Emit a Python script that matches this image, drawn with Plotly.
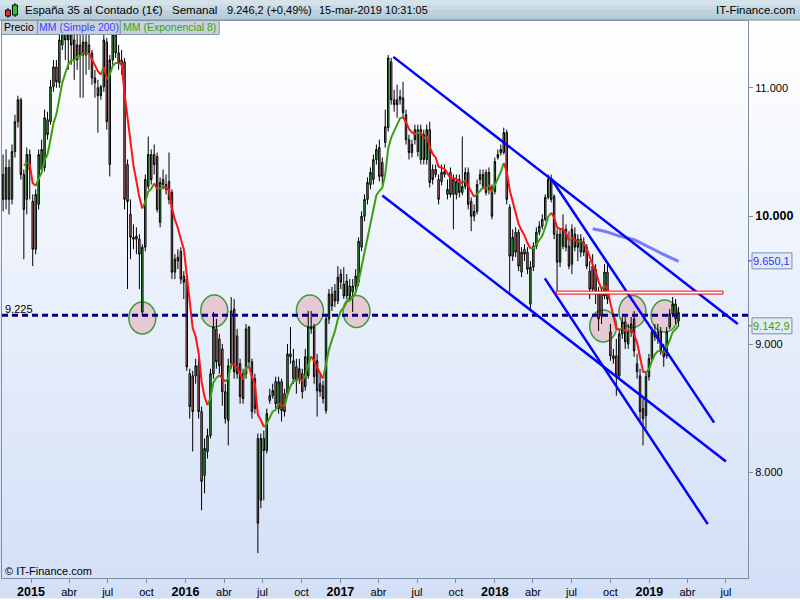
import pandas as pd
import plotly.graph_objects as go

# weekly candles, España 35 al Contado, one row per Monday from 27-oct-2014
open_ = [
    10324, 10130, 10379, 10130, 10503, 10736, 10907, 10324, 10130, 10480,
    10114, 9741, 10091, 10363, 10379, 10752, 10736, 11008, 11164, 11040,
    11335, 11452, 11374, 11413, 11374, 11218, 11335, 11257, 11358, 11335,
    11273, 11078, 11001, 10939, 11008, 11358, 10402, 11218, 11413, 11273,
    11218, 11203, 10402, 10013, 9834, 9819, 9819, 9251, 9757, 10231,
    10480, 10480, 10464, 9951, 10285, 10246, 10270, 10184, 9562, 9648,
    9725, 9531, 9508, 8769, 8753, 8753, 8831, 8474, 7976, 8162,
    8287, 8769, 9119, 9041, 8963, 8419, 8404, 8831, 9274, 9064,
    8847, 8769, 8769, 9134, 8862, 8730, 8264, 7781, 8264, 8170,
    8559, 8598, 8707, 8497, 8707, 8613, 8613, 8924, 8730, 8823,
    8730, 8769, 8668, 8753, 9119, 9134, 8870, 8691, 8676, 8481,
    9197, 9391, 9414, 9337, 9547, 9469, 9376, 9453, 9407, 9453,
    9484, 9757, 9998, 10130, 10246, 10285, 10441, 10534, 10418, 10573,
    10690, 11203, 10907, 10907, 10907, 10923, 10791, 10596, 10495, 10674,
    10503, 10441, 10635, 10441, 10674, 10363, 10324, 10285, 10270, 10324,
    10169, 10340, 10169, 10169, 10285, 10184, 10231, 10340, 10114, 9998,
    10036, 10324, 10231, 10340, 10208, 10223, 10192, 10456, 10495, 10495,
    10651, 10068, 9687, 9873, 9873, 9562, 9741, 9718, 9313, 9601,
    9764, 9873, 9920, 9974, 10145, 10285, 10153, 9858, 9640, 9764,
    9896, 9764, 9624, 9858, 9819, 9718, 9795, 9757, 9570, 9609,
    9585, 9407, 9407, 9376, 9562, 9096, 8886, 8909, 8753, 9080,
    9173, 9002, 9096, 9197, 8847, 8753, 8497, 8442, 8746, 8886,
    9057, 9096, 9096, 8948, 8909, 9134, 9236, 9313, 9181,
]
high = [
    10480, 10519, 10441, 10558, 10791, 10939, 10923, 10363, 10534, 10519,
    10169, 10208, 10519, 10596, 10830, 10814, 11063, 11218, 11218, 11491,
    11529, 11529, 11514, 11491, 11452, 11413, 11452, 11413, 11413, 11413,
    11296, 11141, 11063, 11024, 11413, 11390, 11257, 11491, 11491, 11335,
    11296, 11234, 10441, 10130, 9935, 9912, 9858, 9780, 10324, 10620,
    10519, 10558, 10495, 10301, 10363, 10324, 10495, 10208, 9702, 9741,
    9757, 9570, 9547, 8808, 8792, 8886, 8886, 8512, 8264, 8341,
    8808, 9251, 9197, 9080, 9002, 8691, 8886, 9368, 9352, 9119,
    8886, 8808, 9158, 9142, 8886, 8769, 8302, 8302, 8326, 8497,
    8652, 8691, 8746, 8746, 8730, 8652, 9002, 9134, 8963, 8886,
    8886, 8808, 8963, 9259, 9259, 9158, 8924, 8769, 8715, 9236,
    9430, 9446, 9469, 9609, 9585, 9601, 9547, 9508, 9508, 9585,
    9834, 10036, 10169, 10301, 10379, 10480, 10558, 10596, 10456, 10830,
    11257, 11234, 10985, 11024, 10985, 11047, 10830, 10635, 10596, 10713,
    10713, 10713, 10674, 10713, 10736, 10402, 10402, 10324, 10402, 10402,
    10285, 10379, 10324, 10324, 10324, 10620, 10379, 10379, 10145, 10091,
    10285, 10363, 10363, 10363, 10379, 10246, 10456, 10519, 10558, 10690,
    10674, 10091, 9896, 9912, 9896, 9757, 9780, 9757, 9648, 9795,
    9912, 9959, 10013, 10169, 10324, 10324, 10169, 9896, 9896, 10013,
    9935, 9881, 9935, 9912, 9858, 9858, 9834, 9780, 9648, 9702,
    9624, 9446, 9446, 9624, 9624, 9158, 8963, 9041, 9119, 9212,
    9212, 9158, 9212, 9259, 8924, 8808, 8575, 8792, 8924, 9134,
    9158, 9158, 9134, 9002, 9134, 9274, 9368, 9352, 9290,
]
low = [
    10036, 10052, 10013, 10091, 10456, 10690, 10285, 9663, 10013, 10130,
    9609, 9702, 10052, 10324, 10348, 10596, 10713, 10970, 11001, 11001,
    11296, 11218, 11141, 11180, 11063, 11141, 10923, 10923, 11102, 11141,
    11024, 10923, 10651, 10907, 10970, 10674, 10309, 11180, 11234, 11141,
    11102, 10052, 9430, 9663, 9741, 9702, 9430, 9220, 9725, 10208,
    10246, 10324, 10029, 9912, 10208, 10169, 10091, 9508, 9508, 9585,
    9469, 9352, 8792, 8419, 8162, 8691, 8419, 7704, 7836, 8108,
    8264, 8730, 8808, 8769, 8520, 8380, 8209, 8808, 8730, 8730,
    8536, 8536, 8730, 8823, 8419, 8458, 7369, 7719, 7781, 8147,
    8536, 8575, 8497, 8458, 8396, 8435, 8590, 8847, 8691, 8613,
    8691, 8575, 8637, 8730, 9080, 8691, 8435, 8590, 8536, 8458,
    9158, 9259, 9290, 9313, 9430, 9352, 9352, 9337, 9251, 9414,
    9453, 9725, 9959, 10091, 10208, 10246, 10402, 10270, 10246, 10534,
    10659, 10869, 10814, 10767, 10869, 10767, 10558, 10441, 10456, 10558,
    10464, 10402, 10402, 10402, 10223, 10246, 10301, 10091, 10239, 10301,
    10130, 10145, 9896, 10130, 10145, 10161, 10208, 10052, 9881, 9959,
    10013, 10246, 10208, 10161, 10169, 9974, 10169, 10441, 10472, 10480,
    10091, 9407, 9648, 9679, 9570, 9523, 9648, 9547, 9274, 9570,
    9741, 9850, 9896, 9959, 10130, 10106, 9819, 9407, 9601, 9741,
    9725, 9585, 9547, 9725, 9648, 9679, 9687, 9585, 9352, 9391,
    9313, 9103, 9158, 9352, 9313, 8870, 8847, 8598, 8730, 9041,
    8963, 8963, 9057, 8901, 8730, 8396, 8209, 8341, 8715, 8870,
    9026, 9002, 8917, 8823, 8886, 9119, 9212, 9158, 9134,
]
close = [
    10130, 10379, 10130, 10503, 10736, 10907, 10324, 10052, 10480, 10363,
    9741, 10169, 10480, 10519, 10767, 10635, 11008, 11164, 11047, 11374,
    11452, 11374, 11413, 11335, 11218, 11335, 11257, 11358, 11257, 11273,
    11078, 11040, 10939, 11008, 11374, 10736, 11218, 11413, 11273, 11195,
    11180, 10130, 10114, 9834, 9819, 9842, 9702, 9757, 10285, 10480,
    10285, 10402, 10052, 10262, 10246, 10208, 10130, 9562, 9663, 9679,
    9508, 9484, 8823, 8512, 8474, 8831, 8474, 7929, 8186, 8287,
    8769, 9134, 8862, 8831, 8629, 8629, 8831, 9259, 8785, 8769,
    8590, 8575, 9119, 8862, 8474, 8497, 7603, 8264, 8170, 8458,
    8598, 8637, 8536, 8707, 8481, 8474, 8924, 8901, 8870, 8715,
    8808, 8629, 8901, 9134, 9134, 8746, 8637, 8629, 8575, 9197,
    9391, 9298, 9337, 9523, 9484, 9376, 9492, 9376, 9453, 9531,
    9803, 9998, 10130, 10262, 10340, 10441, 10519, 10309, 10309, 10697,
    11234, 10907, 10869, 10869, 10931, 10806, 10596, 10495, 10558, 10596,
    10674, 10674, 10441, 10674, 10262, 10285, 10363, 10130, 10340, 10348,
    10208, 10169, 10285, 10270, 10184, 10231, 10340, 10091, 9998, 10036,
    10246, 10285, 10324, 10184, 10340, 9998, 10425, 10480, 10519, 10651,
    10130, 9687, 9834, 9718, 9609, 9718, 9702, 9585, 9601, 9764,
    9873, 9920, 9974, 10145, 10285, 10130, 9858, 9640, 9858, 9896,
    9757, 9609, 9896, 9757, 9757, 9819, 9718, 9609, 9430, 9430,
    9407, 9197, 9220, 9562, 9352, 8909, 8909, 8753, 9080, 9173,
    9018, 9096, 9158, 8948, 8785, 8474, 8419, 8746, 8886, 9096,
    9096, 9041, 8948, 8901, 9096, 9236, 9313, 9197, 9246.2,
]
weeks = pd.date_range("2014-10-27", periods=len(close), freq="7D")

support = 9225
sma_label = 9650.1
ema_label = 9142.9

# lines and marks drawn by hand on the chart: (date, value)
trend_lines = [
    ("2017-05-06", 11242, "2019-07-29", 9158),
    ("2017-04-10", 10161, "2019-07-01", 8085),
    ("2018-05-14", 10291, "2019-06-03", 8388),
    ("2018-04-29", 9513, "2019-05-19", 7595),
]
circles = [
    ("2015-09-21", 9204), ("2016-03-09", 9259), ("2016-10-21", 9259),
    ("2017-02-08", 9255), ("2018-09-14", 9142), ("2018-11-22", 9255),
    ("2019-02-06", 9220),
]
box = ("2018-05-26", 9391, "2019-06-24", 9414)

tick_dates = pd.date_range("2015-01-01", "2019-07-01", freq="QS")
month_names = {1: None, 4: "abr", 7: "jul", 10: "oct"}

FONT = "Liberation Sans, Arial, sans-serif"


def px(x):
    return (x - 1) / 747


def py(y):
    return (580 - y) / 559


# indicators
n = len(close)
ema8 = [None] * n
ema8[7] = sum(close[:8]) / 8
for i in range(8, n):
    ema8[i] = ema8[i - 1] + 2 / 9 * (close[i] - ema8[i - 1])
sma200 = [None] * n
for i in range(199, n):
    sma200[i] = sum(close[i - 199:i + 1]) / 200

segs = {True: ([], []), False: ([], [])}
prev = None
for i in range(8, n):
    up = ema8[i] >= ema8[i - 1]
    xs, ys = segs[up]
    if up != prev:
        if xs:
            xs.append(None)
            ys.append(None)
        xs.append(weeks[i - 1])
        ys.append(ema8[i - 1])
    xs.append(weeks[i])
    ys.append(ema8[i])
    prev = up

fig = go.Figure()
fig.add_trace(go.Candlestick(
    x=weeks, open=open_, high=high, low=low, close=close,
    increasing=dict(line=dict(color="black", width=1), fillcolor="#3EC23E"),
    decreasing=dict(line=dict(color="black", width=1), fillcolor="#E47C7C"),
    hoverinfo="skip",
))
fig.add_trace(go.Scatter(x=weeks, y=sma200, mode="lines",
                         line=dict(color="rgba(70,70,255,0.7)", width=3)))
fig.add_trace(go.Scatter(x=segs[True][0], y=segs[True][1], mode="lines",
                         line=dict(color="#3E9E12", width=2)))
fig.add_trace(go.Scatter(x=segs[False][0], y=segs[False][1], mode="lines",
                         line=dict(color="#FF1414", width=2)))

shapes = []
# background gradient
top, bot = (255, 255, 255), (210, 223, 247)
steps = 58
for k in range(steps):
    t = (k + 0.5) / steps
    c = tuple(round(a + (b - a) * t) for a, b in zip(top, bot))
    y0 = 20 + k * 10
    shapes.append(dict(type="rect", xref="paper", yref="paper", x0=-0.01, x1=1.08,
                       y0=py(y0 + 10.5), y1=py(y0), fillcolor="rgb(%d,%d,%d)" % c,
                       line_width=0, layer="below"))
for d, v in circles:
    shapes.append(dict(type="circle", xref="x", yref="y", xsizemode="pixel",
                       ysizemode="pixel", xanchor=d, yanchor=v, x0=-13.5, x1=13.5,
                       y0=-16, y1=16, fillcolor="#E6C9D3",
                       line=dict(color="#3C9A3C", width=1.5), layer="below"))
# header bar
for k, col in enumerate(["#D4E2EA", "#C8DAE4", "#BED2DE", "#B6CCD8"]):
    shapes.append(dict(type="rect", xref="paper", yref="paper", x0=-0.01, x1=1.08,
                       y0=py(5 * k + 5.2), y1=py(5 * k), fillcolor=col,
                       line_width=0, layer="above"))
shapes.append(dict(type="line", xref="paper", yref="paper", x0=-0.01, x1=1.08,
                   y0=py(20), y1=py(20), line=dict(color="#7D8E9C", width=1)))
# header icon
shapes += [
    dict(type="line", xref="paper", yref="paper", x0=px(7), x1=px(7), y0=py(18), y1=py(8),
         line=dict(color="black", width=1)),
    dict(type="rect", xref="paper", yref="paper", x0=px(4.5), x1=px(9.5), y0=py(16), y1=py(10),
         fillcolor="#E03030", line=dict(color="black", width=1)),
    dict(type="line", xref="paper", yref="paper", x0=px(14), x1=px(14), y0=py(17), y1=py(3),
         line=dict(color="black", width=1)),
    dict(type="rect", xref="paper", yref="paper", x0=px(11.5), x1=px(16.5), y0=py(15), y1=py(5),
         fillcolor="#30C030", line=dict(color="black", width=1)),
]
# legend boxes
for x0, x1 in [(0, 36), (36, 119), (119, 218)]:
    shapes.append(dict(type="rect", xref="paper", yref="paper", x0=px(x0 + 0.5), x1=px(x1 + 0.5),
                       y0=py(34.5), y1=py(20.5), fillcolor="#C6D3DC",
                       line=dict(color="#8393A2", width=1), layer="above"))
# drawings
shapes.append(dict(type="line", xref="paper", yref="y", x0=0, x1=1, y0=support, y1=support,
                   line=dict(color="#000080", width=3, dash="6px,4px"), layer="above"))
for d0, v0, d1, v1 in trend_lines:
    shapes.append(dict(type="line", xref="x", yref="y", x0=d0, y0=v0, x1=d1, y1=v1,
                       line=dict(color="#0000FF", width=2.5), layer="above"))
shapes.append(dict(type="rect", xref="x", yref="y", x0=box[0], y0=box[1], x1=box[2], y1=box[3],
                   fillcolor="white", line=dict(color="#FF0000", width=1),
                   layer="above"))
# value boxes on the price scale
for v, col in [(sma_label, "#3030FF"), (ema_label, "#40A000")]:
    shapes.append(dict(type="line", xref="paper", yref="y", x0=1, x1=px(752), y0=v, y1=v,
                       line=dict(color=col, width=1)))
    shapes.append(dict(type="rect", xref="paper", yref="y", x0=px(752), x1=px(792),
                       y0=v - 8 * 7.776, y1=v + 8 * 7.776, fillcolor="#E2EAF6",
                       line=dict(color="#7890A8", width=1)))

ann = []
def text(s, x, y, color="black", size=11, anchor="left", yref="paper"):
    ann.append(dict(text=s, x=x, y=y, xref="paper", yref=yref, xanchor=anchor,
                    yanchor="middle", showarrow=False,
                    font=dict(family=FONT, size=size, color=color)))

text("España 35 al Contado (1€)", px(22), py(10), size=11.5)
text("Semanal", px(169), py(10), size=11.5)
text("9.246,2 (+0,49%)", px(224), py(10), size=11)
text("15-mar-2019 10:31:05", px(316), py(10), size=11)
text("IT-Finance.com", px(797), py(10), size=11.5, anchor="right")
text("Precio", px(18.5), py(27.5), size=10.5, anchor="center")
text("MM (Simple 200)", px(78), py(27.5), color="#3F3FFF", size=10.5, anchor="center")
text("MM (Exponencial 8)", px(169), py(27.5), color="#45A010", size=10.5, anchor="center")
text("9.225", px(2), py(310))
text("© IT-Finance.com", px(2), py(573))
text("9.650,1", px(772), sma_label, color="#3030FF", anchor="center", yref="y")
text("9.142,9", px(772), ema_label, color="#40A000", anchor="center", yref="y")

ticktext = []
for d in tick_dates:
    if d.month == 1:
        ticktext.append("<span style='font-size:12.5px'><b>%d</b></span>" % d.year)
    else:
        ticktext.append(month_names[d.month])

fig.update_layout(
    width=800, height=600,
    margin=dict(l=1, r=52, t=21, b=20),
    paper_bgcolor="white", plot_bgcolor="rgba(0,0,0,0)",
    showlegend=False,
    font=dict(family=FONT, size=11, color="black"),
    shapes=shapes, annotations=ann,
    xaxis=dict(type="date", range=["2014-10-24 10:00", "2019-08-22 02:00"],
               rangeslider=dict(visible=False), showgrid=False, zeroline=False,
               showline=True, linecolor="#7F8FA0", mirror=True,
               ticks="outside", ticklen=4, tickcolor="#7F8FA0",
               tickvals=tick_dates, ticktext=ticktext,
               tickfont=dict(size=11, color="black")),
    yaxis=dict(side="right", range=[7175, 11522], showgrid=False, zeroline=False,
               showline=True, linecolor="#7F8FA0", mirror=True,
               ticks="outside", ticklen=4, tickcolor="#7F8FA0",
               tickvals=[8000, 9000, 10000, 11000],
               ticktext=["8.000", "9.000", "<span style='font-size:12.5px'><b>10.000</b></span>", "11.000"],
               tickfont=dict(size=11, color="black")),
)

# the page has a default 8px body margin; drop it so the chart sits at 0,0
fig.write_html("out.html", config={"displayModeBar": False},
               post_script="document.body.style.margin='0';")
